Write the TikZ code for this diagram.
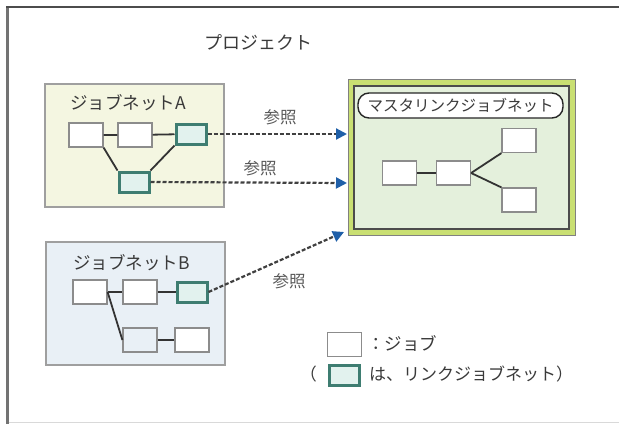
\documentclass[tikz,border=0pt]{standalone}
\usepackage{fontspec}
\setmainfont{Noto Sans CJK JP}
\definecolor{netA}{HTML}{F4F6E1}
\definecolor{netB}{HTML}{E9F0F6}
\definecolor{mastout}{HTML}{C9DF72}
\definecolor{mastin}{HTML}{E4F0DC}
\definecolor{linkfill}{HTML}{E2F2EE}
\definecolor{linkdraw}{HTML}{3E7D71}
\definecolor{refblue}{HTML}{1F5FA8}
\definecolor{txt}{HTML}{3A3A3A}
\newcommand{\lbl}[1]{\fontsize{#1}{#1}\selectfont}
\usetikzlibrary{arrows.meta}
\tikzset{
 job/.style={draw=gray!90,line width=1.2pt,fill=white,minimum width=34pt,minimum height=24pt,inner sep=0pt},
 linkjob/.style={draw=linkdraw,line width=3pt,fill=linkfill,minimum width=30pt,minimum height=20pt,inner sep=0pt},
 wire/.style={draw=black!80,line width=1.8pt},
 refarrow/.style={draw=black!75,line width=2.2pt,dash pattern=on 4pt off 2pt,
   -{Triangle[length=11pt,width=11pt,fill=refblue,color=refblue,sep=0pt]}},
 reftext/.style={text=black!65,font=\lbl{16.5}},
 nettext/.style={text=txt,font=\lbl{17.5},anchor=west,inner sep=0pt}
}
\begin{document}
\begin{tikzpicture}[x=1pt,y=-1pt]
	\useasboundingbox (0,0) rectangle (619,424);
	\draw[gray!30,line width=1pt] (7,422) -- (619,422);
	\draw[black!55,line width=3pt] (7,6) -- (7,424);
	\draw[black!70,line width=2pt] (6,7) -- (619,7);
	\node[text=txt,font=\lbl{18}] (title) at (258,42) {プロジェクト};
		\draw[gray!75,line width=1.4pt,fill=netA] (45,84) rectangle (224,207);
		\node[nettext] (nameA) at (70,103) {ジョブネットA};
			\node[job] (a1) at (86,135) {};
			\node[job] (a2) at (135,135) {};
			\node[linkjob] (a3) at (191,134) {};
			\node[linkjob] (a4) at (134,182) {};
			\draw[wire] (a1) -- (a2) -- (a3);
			\draw[wire] (a1.south east) -- (a4.north west);
			\draw[wire] (a4.north east) -- (a3.south west);
		\draw[gray!75,line width=1.4pt,fill=netB] (46,242) rectangle (225,365);
		\node[nettext] (nameB) at (73,263) {ジョブネットB};
			\node[job] (b1) at (90,292) {};
			\node[job] (b2) at (140,292) {};
			\node[linkjob] (b3) at (192,292) {};
			\node[job,fill=netB] (b4) at (140,340) {};
			\node[job] (b5) at (192,340) {};
			\draw[wire] (b1) -- (b2) -- (b3);
			\draw[wire] (b4) -- (b5);
			\draw[wire] (b1.east) -- (b4.west);
		\draw[gray,line width=1pt,fill=mastout] (348,79) rectangle (575,235);
		\draw[black!70,line width=1.4pt,fill=mastin] (354,86) rectangle (569,229);
		\node[draw=black!85,line width=1.4pt,fill=white,rounded corners=11pt,minimum width=205pt,minimum height=25pt,inner sep=0pt,text=txt,font=\lbl{15.5}] (nameM) at (460.5,105.5) {マスタリンクジョブネット};
			\node[job] (m1) at (399.5,173) {};
			\node[job] (m2) at (453.5,173) {};
			\node[job] (m3) at (519,140.5) {};
			\node[job] (m4) at (519,200) {};
			\draw[wire] (m1) -- (m2);
			\draw[wire] (m2.east) -- (m3.south west);
			\draw[wire] (m2.east) -- (m4.north west);
				\coordinate (r1) at (347,134);
				\coordinate (r2) at (347,183);
				\coordinate (r3) at (344,232);
				\draw[refarrow] (a3.east) -- (r1);
				\draw[refarrow] (a4.east) -- (r2);
				\draw[refarrow] (b3.east) -- (r3);
				\node[reftext] (ref1) at (280,117) {参照};
				\node[reftext] (ref2) at (260,168) {参照};
				\node[reftext] (ref3) at (289,281) {参照};
	\node[job] (leg1) at (344.5,344.5) {};
	\node[linkjob] (leg2) at (344.5,375) {};
	\node[nettext,font=\lbl{17.5}] (legtext1) at (367,343) {：ジョブ};
	\node[nettext,font=\lbl{17},anchor=east] (legparen) at (317,374) {（};
	\node[nettext,font=\lbl{17}] (legtext2) at (369,374) {は、リンクジョブネット）};
\end{tikzpicture}
\end{document}
